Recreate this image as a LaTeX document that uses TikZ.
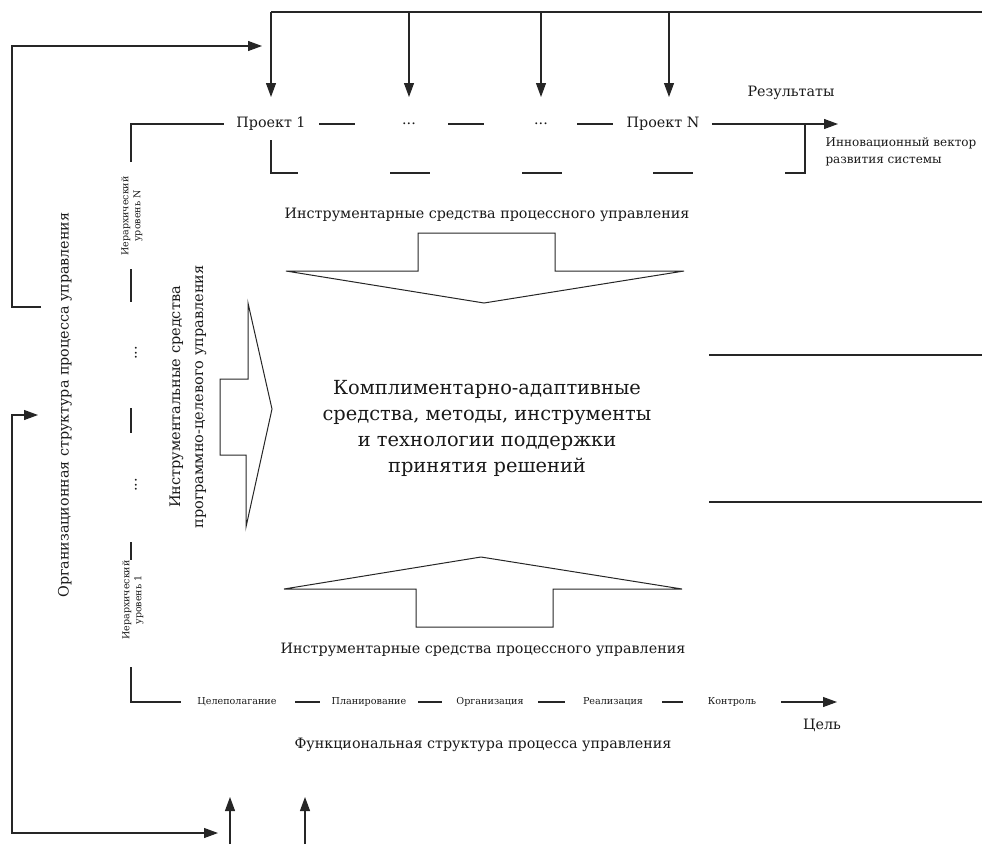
\documentclass[tikz,border=0pt]{standalone}
\usepackage{fontspec}
\setmainfont{DejaVu Serif}
\usetikzlibrary{arrows.meta,calc}

\begin{document}
\begin{tikzpicture}[x=1pt, y=-1pt, line width=1.1pt, draw=black!85, text=black!90]
	% Stili
	\tikzset{
		freccia/.style={-{Triangle[length=14pt,width=10pt]}},
		freccione/.style={line width=1pt, line join=miter},
		testo/.style={inner sep=0pt, font=\fontsize{14.3}{16}\selectfont},
		piccolo/.style={inner sep=0pt, font=\fontsize{9.6}{11}\selectfont},
		livello/.style={inner sep=0pt, rotate=90, align=center, font=\fontsize{9.5}{12}\selectfont},
	}
	\useasboundingbox (0,0) rectangle (982,844);

	% Progetti
	\node[testo] (p1) at (271,124) {Проект 1};
	\node[testo] (pa) at (409,124) {...};
	\node[testo] (pb) at (541,124) {...};
	\node[testo] (pN) at (663,124) {Проект N};
	\node[testo] (ris) at (791,93) {Результаты};
	\node[piccolo, anchor=west, align=left, font=\fontsize{12}{17}\selectfont] (vet) at (825,152) {Инновационный вектор\\развития системы};

	% Linea superiore e frecce verso i progetti
	\coordinate (alto) at (271,12);
	\draw (alto) -- (982,12);
	\foreach \x in {271,409,541,669}
		\draw[freccia] (\x,12) -- (\x,97);

	% Riga dei progetti
	\draw (131,162) -- (131,124) -- (224,124);
	\draw ($(p1.east)+(13,0)$) -- (355,124);
	\draw (448,124) -- (484,124);
	\draw (577,124) -- (613,124);
	\draw[freccia] ($(pN.east)+(12,0)$) -- (838,124);
	\draw (805,124) -- (805,173) -- (785,173);
	\draw (271,140) -- (271,173) -- (298,173);
	\foreach \a/\b in {390/430,522/562,653/693}
		\draw (\a,173) -- (\b,173);

	% Livelli gerarchici
	\node[livello] (livN) at (132,216) {Иерархический\\уровень N};
	\node[testo, rotate=90] (d1) at (136,353) {...};
	\node[testo, rotate=90] (d2) at (136,485) {...};
	\node[livello] (liv1) at (133,600) {Иерархический\\уровень 1};
	\draw (131,269) -- (131,302);
	\draw (131,408) -- (131,433);
	\draw (131,542) -- (131,560);
	\draw (131,667) -- (131,702) -- (181,702);

	% Struttura funzionale
	\node[piccolo] (f1) at (237,702) {Целеполагание};
	\node[piccolo] (f2) at (369,702) {Планирование};
	\node[piccolo] (f3) at (490,702) {Организация};
	\node[piccolo] (f4) at (613,702) {Реализация};
	\node[piccolo] (f5) at (732,702) {Контроль};
	\draw (295,702) -- (320,702);
	\draw (418,702) -- (442,702);
	\draw (538,702) -- (565,702);
	\draw (662,702) -- (683,702);
	\draw[freccia] (781,702) -- (837,702);
	\node[testo] (cel) at (822,725) {Цель};
	\node[testo] (fun) at (483,745) {Функциональная структура процесса управления};

	% Strumenti
	\node[testo] (str1) at (487,215) {Инструментарные средства процессного управления};
	\node[testo] (str2) at (483,650) {Инструментарные средства процессного управления};
	\node[testo, rotate=90, align=center, font=\fontsize{14.5}{23}\selectfont] (pcu) at (188,397) {Инструментальные средства\\программно-целевого управления};
	\node[testo, rotate=90] (org) at (65,405) {Организационная структура процесса управления};

	% Blocco centrale
	\node[testo, align=center, font=\fontsize{19.4}{26}\selectfont] (centro) at (487,428) {Комплиментарно-адаптивные\\средства, методы, инструменты\\и технологии поддержки\\принятия решений};
	\draw (709,355) -- (982,355);
	\draw (709,502) -- (982,502);

	% Frecce grandi
	\draw[freccione] (286,271) -- (418,271) -- (418,233) -- (555,233) -- (555,271) -- (684,271) -- (484,303) -- cycle;
	\draw[freccione] (284,589) -- (416,589) -- (416,627) -- (553,627) -- (553,589) -- (682,589) -- (481,557) -- cycle;
	\draw[freccione] (248,303) -- (272,409) -- (246,527) -- (246,455) -- (220,455) -- (220,379) -- (248,379) -- cycle;

	% Retroazioni
	\draw[freccia] (41,307) -- (12,307) -- (12,46) -- (262,46);
	\draw[{Triangle[length=14pt,width=10pt]}-{Triangle[length=14pt,width=10pt]}] (38,415) -- (12,415) -- (12,833) -- (218,833);
	\draw[freccia] (230,844) -- (230,797);
	\draw[freccia] (305,844) -- (305,797);
\end{tikzpicture}
\end{document}
